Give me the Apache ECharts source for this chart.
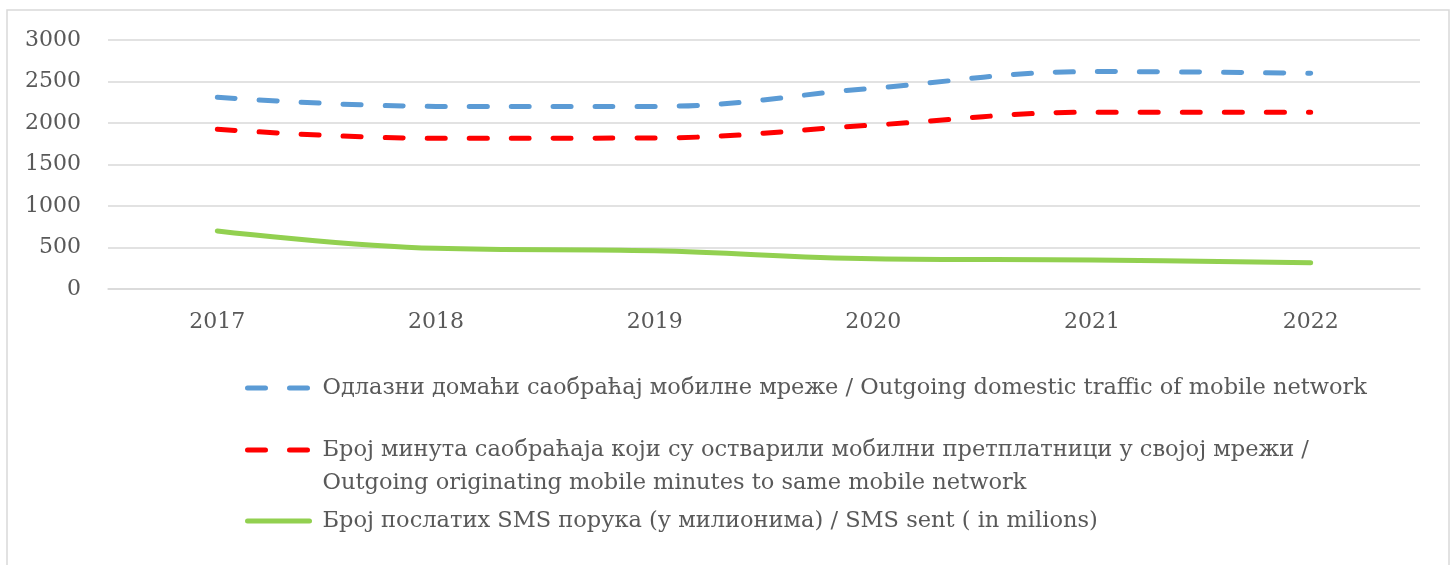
<!DOCTYPE html>
<html>
<head>
<meta charset="utf-8">
<script src="https://cdn.jsdelivr.net/npm/echarts@6/dist/echarts.min.js"></script>
<style>
html,body{margin:0;padding:0;background:#fff;}
#chart{width:1455px;height:565px;}
</style>
</head>
<body>
<div id="chart"></div>
<script>
const categories = ['2017', '2018', '2019', '2020', '2021', '2022'];
const yTicks = [0, 500, 1000, 1500, 2000, 2500, 3000];
const seriesNames = [
  'Одлазни домаћи саобраћај мобилне мреже / Outgoing domestic traffic of mobile network',
  'Број минута саобраћаја који су остварили мобилни претплатници у својој мрежи / Outgoing originating mobile minutes to same mobile network',
  'Број послатих SMS порука (у милионима) / SMS sent ( in milions)'
];
const outgoingDomestic = [2310, 2200, 2200, 2420, 2620, 2600];
const sameNetworkMinutes = [1925, 1815, 1820, 1975, 2130, 2130];
const smsSent = [700, 490, 460, 365, 350, 315];
const seriesColors = ['#5b9bd5', '#ff0000', '#92d050'];

const FONT = 'DejaVu Serif';
const textColor = '#595959';
const gridColor = '#d9d9d9';

const chart = echarts.init(document.getElementById('chart'), null, {renderer: 'canvas'});

function legendCfg(idx, top, formatter) {
  const cfg = {
    show: true,
    data: [seriesNames[idx]],
    orient: 'vertical',
    left: 245,
    top: top,
    padding: 0,
    itemWidth: 62,
    itemHeight: 14,
    selectedMode: false,
    itemStyle: {opacity: 0},
    lineStyle: {
      color: seriesColors[idx], width: 5, cap: 'round',
      type: idx < 2 ? [18, 24] : 'solid'
    },
    textStyle: {
      fontFamily: FONT,
      fontSize: 22.5,
      color: textColor,
      lineHeight: 33,
      padding: [0, 0, 0, 8]
    }
  };
  if (formatter) cfg.formatter = formatter;
  return cfg;
}

const option = {
  backgroundColor: '#fff',
  animation: false,
  graphic: [{
    type: 'rect',
    shape: {x: 7, y: 10, width: 1442, height: 570},
    style: {fill: 'none', stroke: gridColor, lineWidth: 1.5},
    silent: true,
    z: -1
  }],
  grid: {left: 108, right: 35, top: 40, bottom: 276},
  xAxis: {
    type: 'category',
    data: categories,
    boundaryGap: true,
    axisLine: {show: true, lineStyle: {color: gridColor, width: 1.5}},
    axisTick: {show: false},
    axisLabel: {fontFamily: FONT, fontSize: 22, color: textColor, margin: 22}
  },
  yAxis: {
    type: 'value',
    min: yTicks[0],
    max: yTicks[yTicks.length - 1],
    interval: yTicks[1] - yTicks[0],
    axisLine: {show: false},
    axisTick: {show: false},
    splitLine: {show: true, lineStyle: {color: gridColor, width: 1.5}},
    axisLabel: {
      fontFamily: FONT, fontSize: 22, color: textColor, margin: 27,
      formatter: function (v) { return String(v); }
    }
  },
  legend: [
    legendCfg(0, 371.5),
    legendCfg(1, 400.5, function (n) { return ' \n' + n.replace(' / ', ' /\n'); }),
    legendCfg(2, 504.5)
  ],
  series: [
    {
      name: seriesNames[0], type: 'line', data: outgoingDomestic,
      smooth: 0.4, symbol: 'none',
      lineStyle: {color: seriesColors[0], width: 5, type: [18, 24], cap: 'round'},
      itemStyle: {color: seriesColors[0]}
    },
    {
      name: seriesNames[1], type: 'line', data: sameNetworkMinutes,
      smooth: 0.4, symbol: 'none',
      lineStyle: {color: seriesColors[1], width: 5, type: [18, 24], cap: 'round'},
      itemStyle: {color: seriesColors[1]}
    },
    {
      name: seriesNames[2], type: 'line', data: smsSent,
      smooth: 0.4, symbol: 'none',
      lineStyle: {color: seriesColors[2], width: 5, cap: 'round'},
      itemStyle: {color: seriesColors[2]}
    }
  ]
};
chart.setOption(option);
</script>
</body>
</html>
